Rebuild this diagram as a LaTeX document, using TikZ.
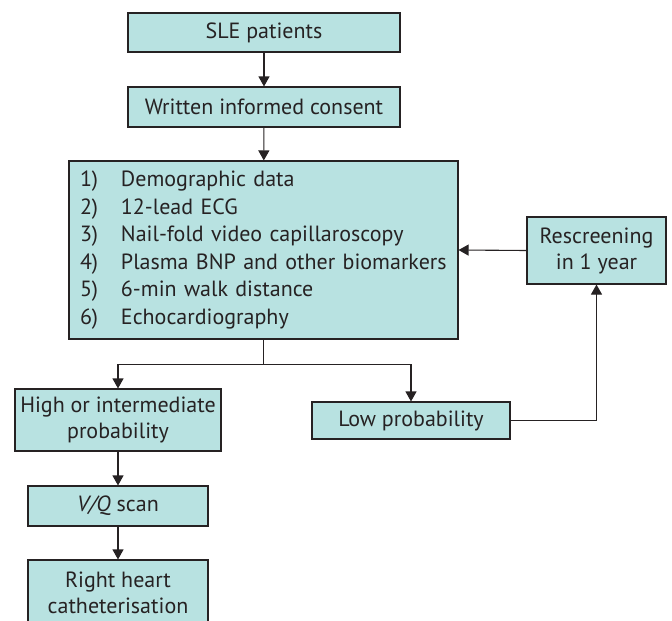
\documentclass[tikz,border=0pt]{standalone}
\usepackage{fontspec}
\setmainfont{PT Sans}
\usetikzlibrary{arrows.meta}
\definecolor{boxfill}{RGB}{184, 226, 225}
\definecolor{ink}{RGB}{38, 34, 35}

\begin{document}
\begin{tikzpicture}[x = 1pt, y = -1pt, font = \fontsize{22}{26}\selectfont, text = ink,
        box/.style = {draw = ink, fill = boxfill, line width = 1.1pt, inner sep = 0pt, align = center},
        arr/.style = {-{Triangle[width = 11pt, length = 10pt]}, draw = ink, line width = 1.1pt}]
        \clip (0, 0) rectangle (672, 621);
        \node [box, minimum width = 272, minimum height = 39] (sle) at (264, 32.5) {SLE patients};
        \node [box, minimum width = 272, minimum height = 40] (consent) at (264, 107) {Written informed consent};
        \node [box, minimum width = 389, minimum height = 178, text width = 367, align = left,
                font = \fontsize{22}{27.6}\selectfont] (tests) at (263.5, 250) {%
                \makebox[41pt][l]{1)}Demographic data\\
                \makebox[41pt][l]{2)}12-lead ECG\\
                \makebox[41pt][l]{3)}Nail-fold video capillaroscopy\\
                \makebox[41pt][l]{4)}Plasma BNP and other biomarkers\\
                \makebox[41pt][l]{5)}6-min walk distance\\
                \makebox[41pt][l]{6)}Echocardiography};
        \node [box, minimum width = 139, minimum height = 67] (rescreen) at (596.5, 250.5) {Rescreening\\in 1 year};
        \node [box, minimum width = 206, minimum height = 62] (high) at (118, 420) {High or intermediate\\probability};
        \node [box, minimum width = 198, minimum height = 37] (low) at (411, 420.5) {Low probability};
        \node [box, minimum width = 180, minimum height = 40] (vq) at (118, 506) {\textit{V/Q} scan};
        \node [box, minimum width = 180, minimum height = 66] (rhc) at (118, 593) {Right heart\\catheterisation};
        \draw [arr] (sle) -- (consent);
        \draw [arr] (consent) -- (tests);
        \draw [draw = ink, line width = 1.1pt] (tests.south) -- ++(0, 25) coordinate (split);
        \draw [arr] (split) -| (high.north);
        \draw [arr] (split) -| (low.north);
        \draw [arr] (high) -- (vq);
        \draw [arr] (vq) -- (rhc);
        \draw [arr] (low.east) -| (rescreen.south);
        \draw [arr] (rescreen.west) -- (tests.east);
    \end{tikzpicture}
\end{document}
